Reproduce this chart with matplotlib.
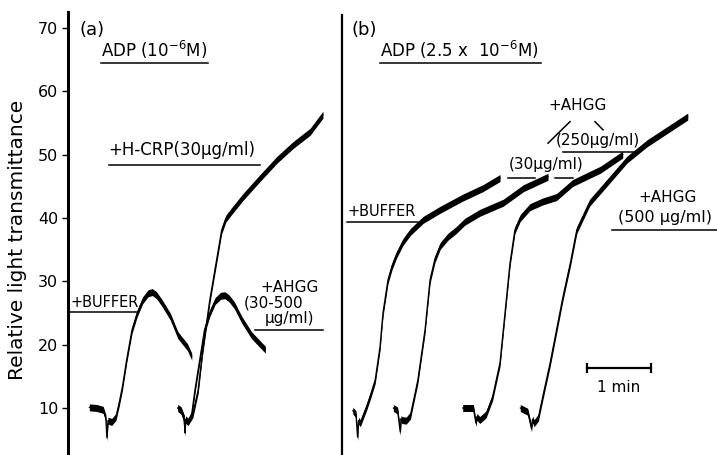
import numpy as np
import matplotlib
matplotlib.use("Agg")
import matplotlib.pyplot as plt

plt.rcParams["font.family"] = ["DejaVu Sans"]
plt.rcParams["mathtext.default"] = "regular"

# time in seconds, relative light transmittance in %
a_buffer_t = [20, 27, 33, 35.5, 36.5, 37.5, 41, 45, 48, 51, 55, 60, 65, 70, 75, 79, 83, 88, 96, 103, 112, 116]
a_buffer_v = [10.1, 10.0, 9.7, 8.4, 5.3, 8.0, 7.8, 8.6, 10.8, 13.3, 17.6, 22.3, 25.0, 27.0, 28.1, 28.3, 27.8, 26.6, 24.4, 21.5, 19.6, 18.1]

a_crp_t = [103, 106, 109, 109.7, 110.3, 112.5, 117, 122, 126, 133, 141, 144, 148, 153, 164, 180, 196, 211, 227, 239]
a_crp_v = [10.0, 9.6, 8.3, 6.1, 8.2, 7.8, 9.0, 12.8, 18.7, 27.1, 35.0, 38.0, 39.9, 41.0, 43.3, 46.3, 49.2, 51.5, 53.6, 56.3]

a_ahgg_t = [103, 106, 109, 109.7, 110.3, 112.5, 116, 119, 124, 128, 133, 138, 143, 147, 151, 156, 163, 172, 185]
a_ahgg_v = [10.0, 9.6, 8.3, 6.1, 8.2, 7.8, 9.0, 12.8, 18.1, 22.3, 25.0, 26.9, 27.7, 27.8, 27.3, 26.2, 23.9, 21.5, 19.2]

b_buffer_t = [267, 270, 271.5, 272.5, 274, 280, 284, 288, 292.5, 295.3, 300, 304, 308, 314, 321, 333, 349, 370, 389, 405]
b_buffer_v = [9.6, 9.0, 5.4, 8.0, 7.6, 10.2, 12.2, 14.4, 19.6, 25.0, 30.2, 32.5, 34.2, 36.2, 37.8, 39.7, 41.3, 43.2, 44.7, 46.3]

b_ahgg30_t = [305, 309, 311.5, 312.2, 313, 317, 321, 328, 334.7, 339.4, 344, 349, 356, 364, 372, 386, 408, 427, 450]
b_ahgg30_v = [10.0, 9.6, 6.2, 8.3, 8.1, 8.0, 8.8, 14.4, 22.3, 30.2, 33.5, 35.6, 37.0, 38.1, 39.4, 40.8, 42.4, 44.7, 46.5]

b_ahgg250_t = [370, 380, 382.5, 383.3, 386, 392, 398, 405, 409.7, 414.4, 419, 424, 433, 445, 458, 473, 489, 499, 520]
b_ahgg250_v = [10.0, 10.0, 7.6, 8.6, 8.1, 9.0, 11.7, 17.1, 25.0, 32.9, 38.1, 40.0, 41.7, 42.6, 43.3, 45.5, 46.8, 47.6, 50.0]

b_ahgg500_t = [424, 431, 434.5, 435.5, 437, 441, 445, 452, 458, 464, 471, 477, 489, 505, 524, 543, 562, 581]
b_ahgg500_v = [10.0, 9.4, 6.8, 8.2, 7.6, 8.5, 11.7, 17.1, 22.3, 27.5, 32.9, 38.1, 42.4, 45.5, 49.2, 51.8, 53.9, 56.0]

y_ticks = [10, 20, 30, 40, 50, 60, 70]
scale_bar_s = 60

DPI = 100
NOISE = 0.55  # half height of the recorder noise band, % units


def trace(ax, t, v):
    t = np.asarray(t, float)
    v = np.asarray(v, float)
    ax.fill_between(t, v - NOISE, v + NOISE, color="black", lw=0)
    ax.plot(t, v, color="black", lw=1.0, solid_joinstyle="round", solid_capstyle="round")


fig = plt.figure(figsize=(7.17, 4.55), dpi=DPI)
ax = fig.add_axes([68 / 717, 0, 649 / 717, 1])
ax.set_xlim(0, 608.4)
ax.set_ylim(2.58, 74.4)

for s in ["top", "right", "bottom"]:
    ax.spines[s].set_visible(False)
ax.spines["left"].set_linewidth(2.2)
ax.spines["left"].set_bounds(2.58, 72.5)
ax.set_xticks([])
ax.set_yticks(y_ticks)
ax.tick_params(axis="y", direction="out", length=4, width=1, pad=3, labelsize=11.5)

# panel (b) baseline axis
ax.plot([257, 257], [2.58, 72.0], color="black", lw=1.6)

for t, v in [(a_buffer_t, a_buffer_v), (a_crp_t, a_crp_v), (a_ahgg_t, a_ahgg_v),
             (b_buffer_t, b_buffer_v), (b_ahgg30_t, b_ahgg30_v),
             (b_ahgg250_t, b_ahgg250_v), (b_ahgg500_t, b_ahgg500_v)]:
    trace(ax, t, v)

fs = 11
line_kw = dict(color="black", lw=1.1)

# panel (a) labels
ax.text(11, 69.7, "(a)", fontsize=13, va="center")
ax.text(31, 66.5, "ADP (10$^{-6}$M)", fontsize=12, va="center")
ax.plot([31, 131], [64.5, 64.5], **line_kw)
ax.text(38, 50.7, "+H-CRP(30μg/ml)", fontsize=12, va="center")
ax.plot([38, 180], [48.4, 48.4], **line_kw)
ax.text(2, 26.7, "+BUFFER", fontsize=10.5, va="center")
ax.plot([0, 66], [25.2, 25.2], **line_kw)
ax.text(208, 29.0, "+AHGG", fontsize=fs, va="center", ha="center")
ax.text(193, 26.6, "(30-500", fontsize=fs, va="center", ha="center")
ax.text(208, 24.2, "μg/ml)", fontsize=fs, va="center", ha="center")
ax.plot([175, 239], [22.3, 22.3], **line_kw)

# panel (b) labels
ax.text(266, 69.7, "(b)", fontsize=13, va="center")
ax.text(292.5, 66.5, "ADP (2.5 x  10$^{-6}$M)", fontsize=12, va="center")
ax.plot([292.5, 443], [64.5, 64.5], **line_kw)
ax.text(478, 57.8, "+AHGG", fontsize=fs, va="center", ha="center")
ax.plot([470.6, 450], [55.2, 51.8], **line_kw)
ax.plot([494, 501.6], [55.2, 53.9], **line_kw)
ax.text(497, 52.3, "(250μg/ml)", fontsize=fs, va="center", ha="center")
ax.plot([464, 532.5], [50.4, 50.4], **line_kw)
ax.text(448, 48.4, "(30μg/ml)", fontsize=fs, va="center", ha="center")
ax.plot([412.5, 437.8], [46.3, 46.3], **line_kw)
ax.plot([456.6, 473.4], [46.3, 46.3], **line_kw)
ax.text(261.6, 41.0, "+BUFFER", fontsize=10.5, va="center")
ax.plot([261.6, 328], [39.4, 39.4], **line_kw)
ax.text(562.5, 43.3, "+AHGG", fontsize=fs, va="center", ha="center")
ax.text(560, 40.0, "(500 μg/ml)", fontsize=11.5, va="center", ha="center")
ax.plot([510, 608.4], [38.1, 38.1], **line_kw)

# 1 min scale bar
x0 = 486.6
ax.plot([x0, x0 + scale_bar_s], [16.3, 16.3], color="black", lw=1.6)
ax.plot([x0, x0], [15.7, 16.9], color="black", lw=1.6)
ax.plot([x0 + scale_bar_s, x0 + scale_bar_s], [15.7, 16.9], color="black", lw=1.6)
ax.text(x0 + scale_bar_s / 2, 13.2, "1 min", fontsize=fs, va="center", ha="center")

fig.text(18 / 717, 1 - 240 / 455, "Relative light transmittance", rotation=90,
         fontsize=14.5, ha="center", va="center")

fig.savefig("out.png", dpi=DPI)
